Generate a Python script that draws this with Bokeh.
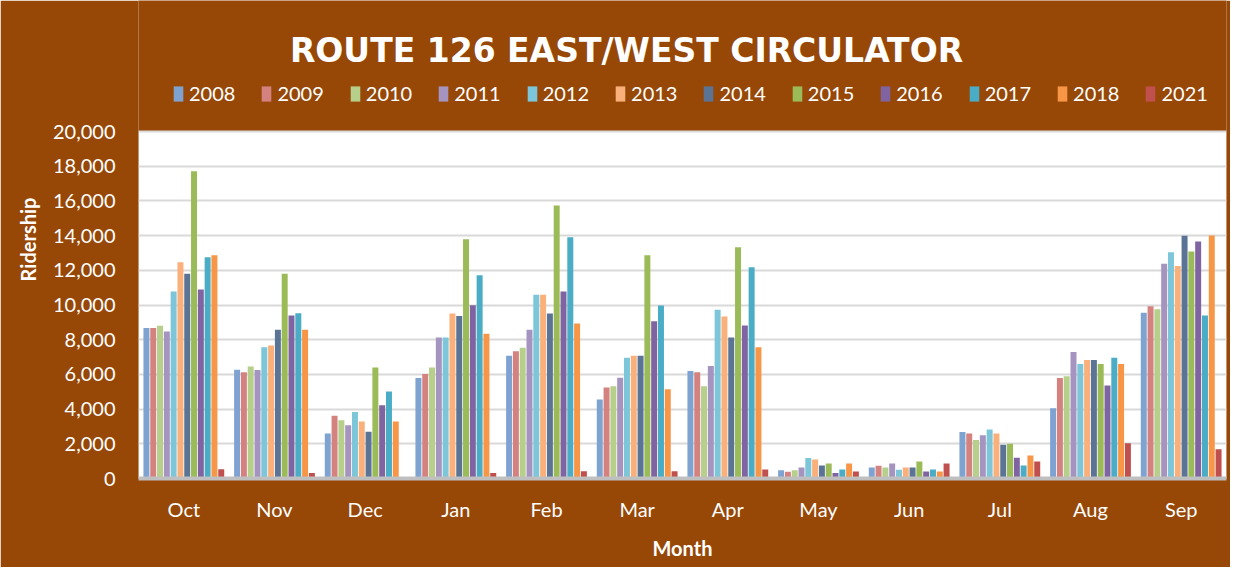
from bokeh.plotting import figure
from bokeh.models import (ColumnDataSource, Range1d, FactorRange, Legend, LegendItem,
                          Label, NumeralTickFormatter, FixedTicker, BoxAnnotation)
from bokeh.transform import dodge
from bokeh.embed import file_html
from bokeh.resources import INLINE

months = ["Oct", "Nov", "Dec", "Jan", "Feb", "Mar", "Apr", "May", "Jun", "Jul", "Aug", "Sep"]
years = ["2008", "2009", "2010", "2011", "2012", "2013", "2014", "2015", "2016", "2017", "2018", "2021"]

y2008 = [8680, 6270, 2600, 5790, 7080, 4550, 6190, 480, 640, 2680, 4050, 9550]
y2009 = [8680, 6130, 3610, 6020, 7330, 5250, 6120, 390, 730, 2600, 5790, 9930]
y2010 = [8800, 6460, 3360, 6400, 7540, 5320, 5320, 480, 640, 2220, 5900, 9760]
y2011 = [8470, 6250, 3070, 8120, 8580, 5810, 6480, 640, 870, 2490, 7290, 12380]
y2012 = [10780, 7560, 3840, 8120, 10590, 6960, 9720, 1180, 500, 2820, 6600, 13040]
y2013 = [12460, 7660, 3280, 9510, 10590, 7080, 9340, 1100, 640, 2600, 6830, 12250]
y2014 = [11800, 8580, 2700, 9360, 9510, 7080, 8120, 750, 640, 1950, 6830, 13990]
y2015 = [17710, 11800, 6400, 13790, 15740, 12870, 13330, 870, 980, 2010, 6600, 13080]
y2016 = [10900, 9390, 4220, 9990, 10780, 9070, 8820, 310, 400, 1200, 5360, 13660]
y2017 = [12750, 9530, 5020, 11710, 13910, 9970, 12170, 520, 520, 750, 6960, 9390]
y2018 = [12870, 8580, 3280, 8350, 8930, 5150, 7560, 870, 400, 1330, 6600, 14000]
y2021 = [540, 310, 0, 310, 420, 420, 520, 400, 870, 980, 2030, 1680]

series = [y2008, y2009, y2010, y2011, y2012, y2013, y2014, y2015, y2016, y2017, y2018, y2021]

y_ticks = list(range(0, 20001, 2000))

colors = ["#7FA3D1", "#D4827F", "#B6CF8A", "#A594C0", "#7DC6DA", "#F9B07A", "#5B7496",
          "#9BBB59", "#8064A2", "#4BACC6", "#F79646", "#C0504D"]

BG = "#974706"
FONT = "Lato"

data = {"month": months}
for yr, vals in zip(years, series):
    data["y" + yr] = vals
source = ColumnDataSource(data)

# frame covers the header area too; the white plot area spans 0..20000
FRAME_H = 478
PLOT_H = 347
y_top = 20000 * FRAME_H / PLOT_H

p = figure(x_range=FactorRange(*months, range_padding=0), y_range=Range1d(0, y_top),
           frame_width=1088, frame_height=FRAME_H,
           min_border_left=138, min_border_right=4, min_border_top=0, min_border_bottom=89,
           output_backend="svg", toolbar_location=None,
           background_fill_color=BG, border_fill_color=BG, outline_line_color=None)

p.add_layout(BoxAnnotation(bottom=0, top=20000, fill_color="white", fill_alpha=1,
                           line_color=None, level="image"))

pitch = 0.075
items = []
for i, (yr, col) in enumerate(zip(years, colors)):
    r = p.vbar(x=dodge("month", (i - 5.5) * pitch, range=p.x_range), top="y" + yr,
               width=0.066, source=source, fill_color=col, line_color=None)
    items.append(LegendItem(label=yr, renderers=[r]))

legend = Legend(items=items, orientation="horizontal", location=(34, 373),
                background_fill_alpha=0, border_line_alpha=0, padding=0, margin=0,
                glyph_width=12, glyph_height=19, label_standoff=5, label_width=46,
                spacing=25, label_text_color="white", label_text_font_size="20px",
                label_text_font=FONT)
p.add_layout(legend)

title = Label(x=488, y=428, x_units="screen", y_units="screen",
              text="ROUTE 126 EAST/WEST CIRCULATOR", text_align="center",
              text_baseline="middle", text_color="white", text_font_size="33px",
              text_font_style="bold", text_font="DejaVu Sans")
p.add_layout(title)

p.yaxis.ticker = FixedTicker(ticks=y_ticks)
p.yaxis.formatter = NumeralTickFormatter(format="0,0")
p.yaxis.axis_line_color = None
p.yaxis.major_tick_line_color = None
p.yaxis.minor_tick_line_color = None
p.yaxis.major_tick_out = 0
p.yaxis.major_label_standoff = 23
p.yaxis.axis_label = "Ridership"
p.yaxis.axis_label_standoff = 10
p.yaxis.axis_label_text_align = "center"

p.xaxis.axis_line_color = "#bfbfbf"
p.xaxis.axis_line_width = 4
p.xaxis.major_tick_line_color = None
p.xaxis.minor_tick_line_color = None
p.xaxis.major_tick_out = 0
p.xaxis.major_label_standoff = 18
p.xaxis.axis_label = "Month"
p.xaxis.axis_label_standoff = 12

for ax in (p.xaxis, p.yaxis):
    ax.major_label_text_color = "white"
    ax.major_label_text_font_size = "20px"
    ax.major_label_text_font = FONT
    ax.axis_label_text_color = "white"
    ax.axis_label_text_font_size = "20px"
    ax.axis_label_text_font_style = "bold"
    ax.axis_label_text_font = FONT

p.xgrid.grid_line_color = None
p.ygrid.grid_line_color = "#d9d9d9"
p.ygrid.grid_line_width = 2

open("out.html", "w").write(file_html(p, INLINE))
